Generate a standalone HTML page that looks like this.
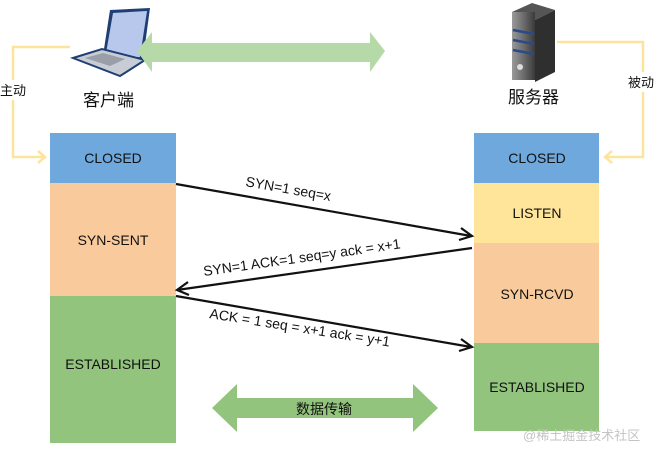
<!DOCTYPE html>
<html><head><meta charset="utf-8"><style>
html,body{margin:0;padding:0;background:#fff;width:662px;height:455px;overflow:hidden}
svg text{font-family:"Liberation Sans","Noto Sans CJK SC",sans-serif;fill:#111}
</style></head><body>
<svg width="662" height="455" viewBox="0 0 662 455">
<defs>
<linearGradient id="sv" x1="0" x2="1"><stop offset="0" stop-color="#9a9a9a"/><stop offset="0.5" stop-color="#6c6c6c"/><stop offset="1" stop-color="#3a3a3a"/></linearGradient>
</defs>
<g fill="none" stroke="#fde49c" stroke-width="2.5">
<polyline points="70,47 13,47 13,157 44,157"/>
<polyline points="38,151 45,157 38,163"/>
<polyline points="557,42 643,42 643,157 606,157"/>
<polyline points="612,151 605,157 612,163"/>
</g>
<rect x="0" y="80" width="26" height="20" fill="#fff"/>
<text x="0" y="95" font-size="13">主动</text>
<rect x="628" y="72" width="34" height="20" fill="#fff"/>
<text x="628" y="87" font-size="13">被动</text>
<polygon points="110,10 150,8 143,60 102,62" fill="#1f3f74"/>
<polygon points="113,13 147,11 140,57 105,59" fill="#b8c8ec"/>
<polygon points="73,58 102,49 145,60 120,76" fill="#c8ccd4" stroke="#1f3f74" stroke-width="2"/>
<polygon points="85,58 103,53 125,59 110,66" fill="#9a9ea6"/>
<text x="83" y="106" font-size="17">客户端</text>
<polygon points="512,12 532,3 555,10 535,20" fill="#555"/>
<rect x="512" y="12" width="23" height="68" fill="url(#sv)"/>
<polygon points="535,20 555,10 555,72 535,82" fill="#2f2f2f"/>
<g stroke="#2a4a8a" stroke-width="2.5" fill="none"><line x1="513" y1="30" x2="534" y2="34"/><line x1="513" y1="40" x2="534" y2="44"/><line x1="513" y1="50" x2="534" y2="54"/></g>
<circle cx="520" cy="67" r="3" fill="#ddd"/>
<text x="508" y="103" font-size="17">服务器</text>
<polygon points="137,51 152,32 152,43 370,43 370,32 385,51 370,72 370,62 152,62 152,72" fill="#b6d9a8"/>
<rect x="50" y="133" width="126" height="50" fill="#6fa8dc"/>
<rect x="50" y="183" width="126" height="113" fill="#f9cb9c"/>
<rect x="50" y="296" width="126" height="147" fill="#93c47d"/>
<g font-size="14" text-anchor="middle">
<text x="113" y="163">CLOSED</text>
<text x="113" y="245">SYN-SENT</text>
<text x="113" y="369">ESTABLISHED</text>
</g>
<rect x="474" y="133" width="125" height="50" fill="#6fa8dc"/>
<rect x="474" y="183" width="125" height="60" fill="#ffe599"/>
<rect x="474" y="243" width="125" height="100" fill="#f9cb9c"/>
<rect x="474" y="343" width="125" height="88" fill="#93c47d"/>
<g font-size="14" text-anchor="middle">
<text x="537" y="163">CLOSED</text>
<text x="537" y="218">LISTEN</text>
<text x="537" y="299">SYN-RCVD</text>
<text x="537" y="392">ESTABLISHED</text>
</g>
<g stroke="#111" stroke-width="2.2" fill="none">
<line x1="176" y1="184" x2="471" y2="236"/>
<polyline points="461,228 472,236 459,240"/>
<line x1="472" y1="248" x2="177" y2="290"/>
<polyline points="188,282 177,290 189,295"/>
<line x1="176" y1="296" x2="471" y2="347"/>
<polyline points="461,339 472,347 459,351"/>
</g>
<g font-size="14">
<text x="245" y="186" transform="rotate(10 245 186)">SYN=1  seq=x</text>
<text x="204" y="276" transform="rotate(-8 204 276)">SYN=1 ACK=1 seq=y ack = x+1</text>
<text x="209" y="318" transform="rotate(9 209 318)">ACK = 1 seq = x+1 ack = y+1</text>
</g>
<polygon points="212,408 237,384 237,398 413,398 413,384 438,408 413,432 413,418 237,418 237,432" fill="#93c47d"/>
<text x="296" y="414" font-size="14">数据传输</text>
<text x="523" y="440" font-size="13" style="fill:#c4c4c4">@稀土掘金技术社区</text>
</svg>
</body></html>
